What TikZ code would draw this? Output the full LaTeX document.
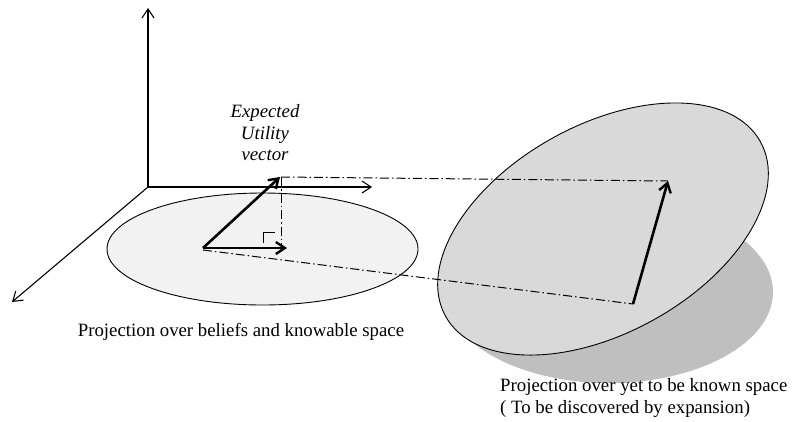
\documentclass[tikz,border=0pt]{standalone}
\usepackage{fontspec}
\setmainfont{Liberation Serif}
\usetikzlibrary{arrows.meta}
\definecolor{lightfill}{RGB}{242,242,242}
\definecolor{midfill}{RGB}{217,217,217}
\definecolor{shadowfill}{RGB}{191,191,191}
\tikzset{
  axis/.style={line width=1.1pt,-{Straight Barb[length=9pt,width=12pt,line width=1.1pt]}},
  vec/.style={line width=2.6pt,-{Straight Barb[length=9pt,width=12pt,line width=2.4pt]}},
  proj/.style={line width=1pt,dash pattern=on 9pt off 3pt on 1.5pt off 3pt},
  lbl/.style={font=\fontsize{18.8}{21.5}\selectfont,inner sep=0pt},
}
\begin{document}
\begin{tikzpicture}[x=1pt,y=-1pt]
\useasboundingbox (0,0) rectangle (792,421);
% axes
\coordinate (O) at (148,187);
\coordinate (ztip) at (148,8);
\coordinate (xtip) at (372,187);
\coordinate (ytip) at (12,302);
\draw[axis] (O) -- (ztip);
\draw[axis] (O) -- (xtip);
\draw[axis] (O) -- (ytip);
% left ellipse
\draw[line width=0.9pt,fill=lightfill] (262.5,249) ellipse [x radius=155.5, y radius=56];
% shadow of right ellipse
\fill[shadowfill] (609,292) ellipse [x radius=164, y radius=91];
% right ellipse
\draw[line width=0.9pt,fill=midfill,rotate around={29:(603,229)}] (603,229) ellipse [x radius=180, y radius=104];
% points
\coordinate (A) at (203,248);
\coordinate (B) at (280,177);
\coordinate (C) at (287,248);
\coordinate (Bt) at (281,177);
\coordinate (Cb) at (281,245);
\coordinate (Al) at (203,250);
\coordinate (P) at (633,304);
\coordinate (Q) at (668,181);
% projection lines
\draw[proj] (Bt) -- (Q);
\draw[proj] (Bt) -- (Cb);
\draw[proj] (Al) -- (P);
% right angle marker
\coordinate (r1) at (263,243);
\coordinate (r2) at (263,232);
\coordinate (r3) at (275,232);
\draw[line width=0.9pt] (r1) -- (r2) -- (r3);
% vectors
\draw[vec] (A) -- (B);
\draw[vec] (A) -- (C);
\draw[vec] (P) -- (Q);
% labels
\node[lbl,align=center,font=\fontsize{18.8}{21.5}\selectfont\itshape] (eu) at (265,133) {Expected\\Utility\\vector};
\node[lbl] (l1) at (241,332) {Projection over beliefs and knowable space};
\node[lbl,align=left,anchor=west] (l2) at (500,398) {Projection over yet to be known space\\( To be discovered by expansion)};
\end{tikzpicture}
\end{document}
